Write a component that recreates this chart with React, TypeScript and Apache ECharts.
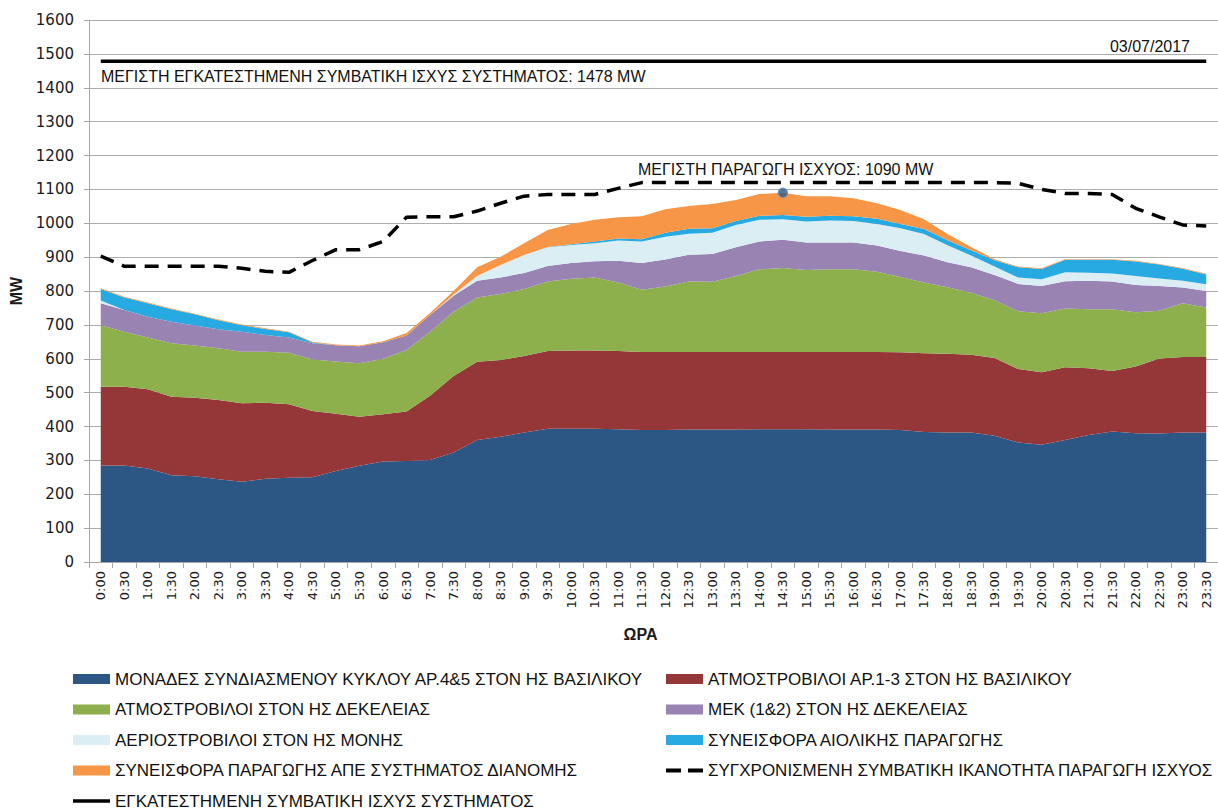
import React, { useEffect, useRef } from "react";
import * as echarts from "echarts";

const hours = [
  "0:00", "0:30", "1:00", "1:30", "2:00", "2:30", "3:00", "3:30", "4:00", "4:30", "5:00", "5:30",
  "6:00", "6:30", "7:00", "7:30", "8:00", "8:30", "9:00", "9:30", "10:00", "10:30", "11:00", "11:30",
  "12:00", "12:30", "13:00", "13:30", "14:00", "14:30", "15:00", "15:30", "16:00", "16:30", "17:00", "17:30",
  "18:00", "18:30", "19:00", "19:30", "20:00", "20:30", "21:00", "21:30", "22:00", "22:30", "23:00", "23:30",
];

const yTicks = { min: 0, max: 1600, step: 100 };

const ccgtLavrio = [
  285, 285, 276, 256, 253, 244, 237, 246, 249, 250, 269, 284,
  297, 298, 301, 323, 360, 370, 382, 393, 393, 393, 392, 390,
  390, 391, 391, 391, 392, 392, 392, 391, 391, 391, 390, 384,
  382, 382, 373, 353, 346, 360, 375, 385, 380, 379, 382, 382,
];
const steamLavrio = [
  232, 232, 234, 232, 232, 234, 232, 224, 217, 196, 169, 145,
  139, 146, 190, 226, 231, 226, 226, 230, 231, 231, 231, 230,
  230, 229, 229, 229, 228, 228, 228, 229, 229, 229, 229, 232,
  233, 230, 229, 217, 214, 215, 197, 179, 197, 222, 223, 223,
];
const steamDekeleia = [
  182, 163, 153, 158, 154, 153, 152, 151, 152, 152, 154, 158,
  164, 182, 189, 190, 190, 195, 198, 205, 212, 216, 202, 184,
  193, 208, 207, 224, 244, 248, 242, 244, 244, 237, 222, 209,
  196, 183, 171, 170, 174, 173, 174, 182, 160, 141, 159, 146,
];
const mekDekeleia = [
  65, 64, 61, 63, 59, 56, 59, 49, 45, 48, 48, 50,
  49, 43, 49, 47, 49, 49, 47, 46, 47, 48, 64, 79,
  80, 79, 82, 85, 82, 83, 81, 79, 79, 77, 77, 80,
  74, 75, 74, 81, 81, 81, 84, 82, 81, 73, 46, 49,
];
const gasMoni = [
  8, 0, 0, 0, 0, 0, 0, 0, 0, 0, 0, 0,
  0, 0, 0, 4, 14, 37, 53, 55, 53, 53, 60, 63,
  67, 62, 63, 66, 64, 61, 62, 65, 64, 64, 67, 63,
  50, 35, 25, 19, 20, 26, 24, 24, 26, 22, 20, 20,
];
const wind = [
  34, 37, 40, 37, 33, 27, 19, 18, 15, 2, 0, 0,
  0, 0, 0, 0, 0, 0, 0, 1, 2, 5, 6, 7,
  12, 15, 13, 12, 12, 12, 14, 14, 14, 15, 13, 15,
  15, 15, 19, 30, 30, 37, 38, 40, 43, 41, 36, 29,
];
const resDistribution = [
  2, 2, 2, 2, 2, 2, 2, 2, 2, 2, 2, 2,
  3, 7, 6, 10, 26, 24, 35, 50, 60, 64, 63, 68,
  69, 67, 72, 62, 64, 66, 61, 58, 53, 46, 41, 29,
  18, 10, 3, 2, 2, 2, 2, 2, 2, 2, 2, 2,
];
const syncCapacity = [
  903, 873, 873, 873, 873, 873, 867, 858, 855, 890, 922, 922,
  946, 1018, 1019, 1019, 1036, 1059, 1080, 1085, 1085, 1085, 1103, 1120,
  1120, 1120, 1120, 1120, 1120, 1120, 1120, 1120, 1120, 1120, 1120, 1120,
  1120, 1120, 1120, 1118, 1100, 1088, 1088, 1085, 1044, 1019, 995, 992,
];
const installedCapacity = 1478;
const peakHour = "14:30";
const peakValue = 1090;
const dateLabel = "03/07/2017";

const N_CCGT = "ΜΟΝΑΔΕΣ ΣΥΝΔΙΑΣΜΕΝΟΥ ΚΥΚΛΟΥ ΑΡ.4&5 ΣΤΟΝ ΗΣ ΒΑΣΙΛΙΚΟΥ";
const N_STL = "ΑΤΜΟΣΤΡΟΒΙΛΟΙ ΑΡ.1-3 ΣΤΟΝ ΗΣ ΒΑΣΙΛΙΚΟΥ";
const N_STD = "ΑΤΜΟΣΤΡΟΒΙΛΟΙ ΣΤΟΝ ΗΣ ΔΕΚΕΛΕΙΑΣ";
const N_MEK = "ΜΕΚ (1&2) ΣΤΟΝ ΗΣ ΔΕΚΕΛΕΙΑΣ";
const N_GT = "ΑΕΡΙΟΣΤΡΟΒΙΛΟΙ ΣΤΟΝ ΗΣ ΜΟΝΗΣ";
const N_WIND = "ΣΥΝΕΙΣΦΟΡΑ ΑΙΟΛΙΚΗΣ ΠΑΡΑΓΩΓΗΣ";
const N_RES = "ΣΥΝΕΙΣΦΟΡΑ ΠΑΡΑΓΩΓΗΣ ΑΠΕ ΣΥΣΤΗΜΑΤΟΣ ΔΙΑΝΟΜΗΣ";
const N_SYNC = "ΣΥΓΧΡΟΝΙΣΜΕΝΗ ΣΥΜΒΑΤΙΚΗ ΙΚΑΝΟΤΗΤΑ ΠΑΡΑΓΩΓΗ ΙΣΧΥΟΣ";
const N_INST = "ΕΓΚΑΤΕΣΤΗΜΕΝΗ ΣΥΜΒΑΤΙΚΗ ΙΣΧΥΣ ΣΥΣΤΗΜΑΤΟΣ";

const TXT_FONT = "'Liberation Sans', Arial, sans-serif";
const NUM_FONT = "'DejaVu Sans', sans-serif";

function areaSeries(name: string, data: number[], color: string) {
  return {
    name,
    type: "line",
    stack: "total",
    data,
    color,
    symbol: "none",
    showSymbol: false,
    lineStyle: { width: 0, color },
    areaStyle: { color, opacity: 1 },
    emphasis: { disabled: true },
    z: 2,
  };
}

const legendText = { fontSize: 17, lineHeight: 18, fontFamily: TXT_FONT, color: "#111" };

function legendBlock(left: number, top: number, data: any[], extra: any = {}) {
  return {
    left,
    top,
    orient: "vertical",
    padding: 0,
    itemWidth: 37,
    itemHeight: 10,
    itemGap: 12.5,
    selectedMode: false,
    textStyle: legendText,
    data,
    ...extra,
  };
}

export default function App() {
  const ref = useRef<HTMLDivElement>(null);
  useEffect(() => {
    if (!ref.current) return;
    const chart = echarts.init(ref.current, null, { renderer: "svg" });
    const option = {
      animation: false,
      backgroundColor: "#ffffff",
      grid: { left: 89, right: 0, top: 20, bottom: 248 },
      legend: [
        legendBlock(73, 670, [
          { name: N_CCGT, icon: "rect" },
          { name: N_STD, icon: "rect" },
          { name: N_GT, icon: "rect" },
          { name: N_RES, icon: "rect" },
        ]),
        legendBlock(666, 670, [
          { name: N_STL, icon: "rect" },
          { name: N_MEK, icon: "rect" },
          { name: N_WIND, icon: "rect" },
        ]),
        legendBlock(666, 761.5, [{ name: N_SYNC, icon: "path://M0,0H15V4H0Z M22,0H37V4H22Z" }], {
          itemHeight: 4,
        }),
        legendBlock(73, 792, [{ name: N_INST, icon: "rect" }], { itemHeight: 3.5 }),
      ],
      xAxis: {
        type: "category",
        data: hours,
        boundaryGap: true,
        axisLine: { lineStyle: { color: "#A6A6A6", width: 1 } },
        axisTick: { show: true, interval: 0, length: 6, lineStyle: { color: "#A6A6A6" } },
        axisLabel: { interval: 0, rotate: 90, fontSize: 13, fontFamily: NUM_FONT, color: "#1a1a1a", margin: 9 },
        name: "ΩΡΑ",
        nameLocation: "middle",
        nameGap: 64,
        nameTextStyle: {
          fontWeight: "bold",
          fontSize: 16,
          fontFamily: TXT_FONT,
          color: "#1a1a1a",
          padding: [0, 26, 0, 0],
        },
      },
      yAxis: {
        type: "value",
        min: yTicks.min,
        max: yTicks.max,
        interval: yTicks.step,
        axisLine: { show: true, lineStyle: { color: "#A6A6A6" } },
        axisTick: { show: true, length: 5, lineStyle: { color: "#A6A6A6" } },
        splitLine: { lineStyle: { color: "#ADADAD", width: 1 } },
        axisLabel: {
          fontSize: 15,
          fontFamily: NUM_FONT,
          color: "#1a1a1a",
          margin: 15,
          formatter: (v: number) => String(v),
        },
        name: "MW",
        nameLocation: "middle",
        nameGap: 63,
        nameRotate: 90,
        nameTextStyle: { fontWeight: "bold", fontSize: 16, fontFamily: TXT_FONT, color: "#1a1a1a" },
      },
      graphic: [
        {
          type: "text",
          x: 101,
          y: 76,
          style: {
            text: "ΜΕΓΙΣΤΗ ΕΓΚΑΤΕΣΤΗΜΕΝΗ ΣΥΜΒΑΤΙΚΗ ΙΣΧΥΣ ΣΥΣΤΗΜΑΤΟΣ: " + installedCapacity + " MW",
            font: "16px " + TXT_FONT,
            fill: "#111",
            textVerticalAlign: "middle",
          },
          z: 10,
        },
        {
          type: "text",
          x: 1190,
          y: 46,
          style: {
            text: dateLabel,
            font: "16px " + TXT_FONT,
            fill: "#111",
            textAlign: "right",
            textVerticalAlign: "middle",
          },
          z: 10,
        },
        {
          type: "text",
          x: 638,
          y: 169,
          style: {
            text: "ΜΕΓΙΣΤΗ ΠΑΡΑΓΩΓΗ ΙΣΧΥΟΣ: " + peakValue + " MW",
            font: "16px " + TXT_FONT,
            fill: "#111",
            textVerticalAlign: "middle",
          },
          z: 10,
        },
      ],
      series: [
        areaSeries(N_CCGT, ccgtLavrio, "#2C5684"),
        areaSeries(N_STL, steamLavrio, "#953639"),
        areaSeries(N_STD, steamDekeleia, "#8DB04D"),
        areaSeries(N_MEK, mekDekeleia, "#9883B3"),
        areaSeries(N_GT, gasMoni, "#DAEEF4"),
        areaSeries(N_WIND, wind, "#27AAE1"),
        areaSeries(N_RES, resDistribution, "#F79646"),
        {
          name: N_SYNC,
          type: "line",
          data: syncCapacity,
          color: "#000",
          symbol: "none",
          lineStyle: { color: "#000", width: 3.5, type: [14, 9] },
          emphasis: { disabled: true },
          z: 5,
        },
        {
          name: N_INST,
          type: "line",
          data: hours.map(() => installedCapacity),
          color: "#000",
          symbol: "none",
          lineStyle: { color: "#000", width: 3.5 },
          emphasis: { disabled: true },
          z: 5,
        },
        {
          name: "peak",
          type: "scatter",
          data: [[peakHour, peakValue]],
          symbolSize: 9,
          itemStyle: { color: "#2C5684", borderColor: "#5B87BA", borderWidth: 1.5 },
          emphasis: { disabled: true },
          z: 6,
        },
      ],
    };
    chart.setOption(option as any);
    return () => chart.dispose();
  }, []);
  return (
    <div
      ref={ref}
      style={{ position: "fixed", left: 0, top: 0, width: 1218, height: 810, background: "#fff" }}
    />
  );
}
